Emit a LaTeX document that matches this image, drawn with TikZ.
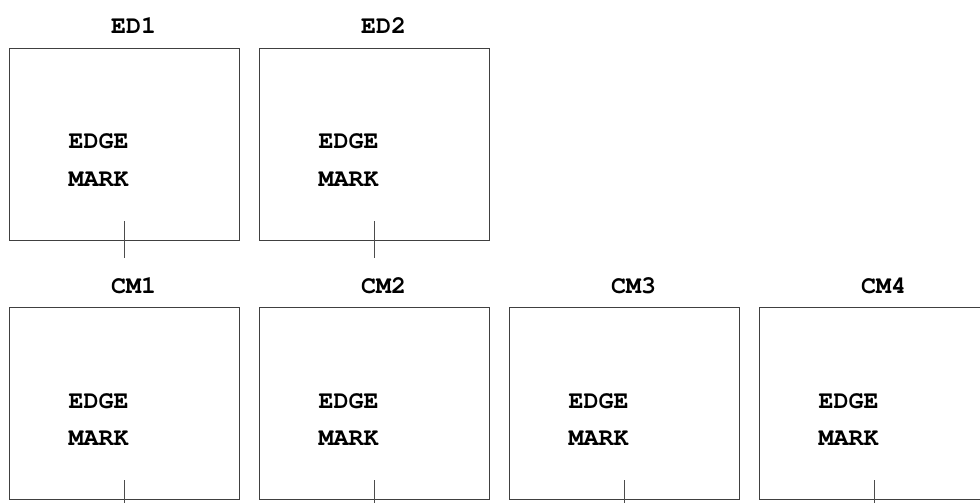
\documentclass[tikz,border=0pt]{standalone}
\usepackage[T1]{fontenc}
\begin{document}
\begin{tikzpicture}[x=1pt,y=-1pt,
  box/.style={draw=black!75,line width=1pt,minimum width=230pt,minimum height=192pt,inner sep=0pt,anchor=north west},
  txt/.style={font=\fontfamily{pcr}\fontseries{b}\fontsize{25}{25}\selectfont,inner sep=0pt,anchor=center},
  tick/.style={draw=black!70,line width=1pt}]
\useasboundingbox (0,0) rectangle (980,503);
\clip (0,0) rectangle (980,503);
% top row
\foreach \i/\n/\x in {1/ED1/9,2/ED2/259}{
  \node[box] (e\i) at (\x,48) {};
  \node[txt] (el\i) at (\x+124.5,26) {\n};
  \node[txt] (ee\i) at (\x+89.5,141.7) {EDGE};
  \node[txt] (em\i) at (\x+89.5,180) {MARK};
  \coordinate (et\i) at (\x+115.5,221);
  \coordinate (eb\i) at (\x+115.5,258);
  \draw[tick] (et\i) -- (eb\i);
}
% bottom row
\foreach \i/\n/\x in {1/CM1/9,2/CM2/259,3/CM3/509,4/CM4/759}{
  \node[box] (c\i) at (\x,307) {};
  \node[txt] (cl\i) at (\x+124.5,286) {\n};
  \node[txt] (ce\i) at (\x+89.5,401) {EDGE};
  \node[txt] (cm\i) at (\x+89.5,439) {MARK};
  \coordinate (ct\i) at (\x+115.5,480);
  \coordinate (cb\i) at (\x+115.5,504);
  \draw[tick] (ct\i) -- (cb\i);
}
\end{tikzpicture}
\end{document}
